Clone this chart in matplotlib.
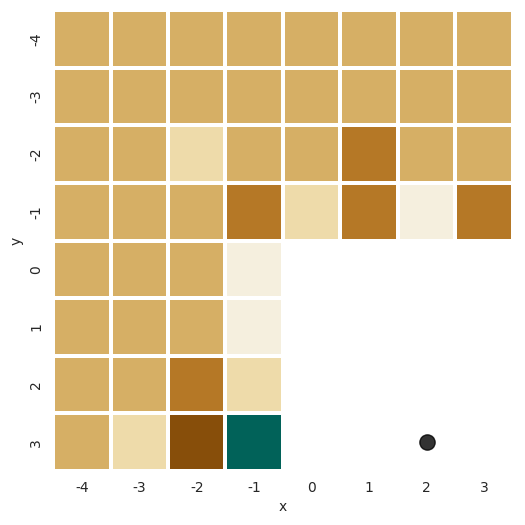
import numpy as np
import matplotlib
matplotlib.use("Agg")
import matplotlib.pyplot as plt
import seaborn as sns

x_labels = [-4, -3, -2, -1, 0, 1, 2, 3]
y_labels = [-4, -3, -2, -1, 0, 1, 2, 3]
nan = np.nan
values = [
    [2, 2, 2, 2, 2, 2, 2, 2],
    [2, 2, 2, 2, 2, 2, 2, 2],
    [2, 2, 3, 2, 2, 1, 2, 2],
    [2, 2, 2, 1, 3, 1, 4, 1],
    [2, 2, 2, 4, nan, nan, nan, nan],
    [2, 2, 2, 4, nan, nan, nan, nan],
    [2, 2, 1, 3, nan, nan, nan, nan],
    [2, 3, 0, 9, nan, nan, nan, nan],
]
point_x = [2]
point_y = [3]

sns.set_theme(style="white")
fig = plt.figure(figsize=(5.25, 5.25), dpi=100)
ax = fig.add_axes([0.101, 0.1029, 0.876, 0.878])
data = np.array(values, dtype=float)
sns.heatmap(data, ax=ax, cmap="BrBG", vmin=-1, vmax=10, cbar=False,
            linewidths=2.7, linecolor="white",
            xticklabels=x_labels, yticklabels=y_labels, square=False)
px = [x_labels.index(v) + 0.5 for v in point_x]
py = [y_labels.index(v) + 0.5 for v in point_y]
ax.plot(px, py, 'o', color='black', alpha=0.8, markersize=11)
ax.set_xlabel("x", fontsize=10)
ax.set_ylabel("y", fontsize=10)
ax.tick_params(axis='both', length=0, pad=7, labelsize=10)
plt.setp(ax.get_yticklabels(), rotation=90, va='center')
plt.setp(ax.get_xticklabels(), rotation=0)
fig.savefig("out.png", dpi=100)
